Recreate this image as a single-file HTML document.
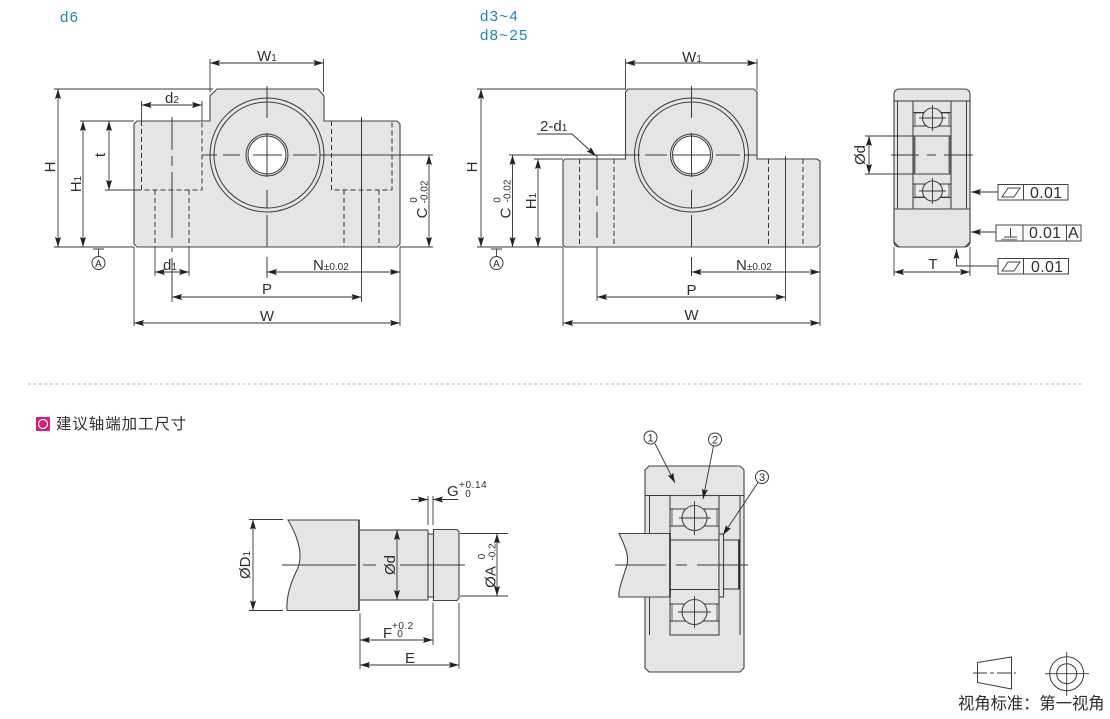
<!DOCTYPE html>
<html lang="zh"><head><meta charset="utf-8"><title>Diagram</title>
<style>
html,body{margin:0;padding:0;background:#fff;width:1110px;height:719px;overflow:hidden}
svg{display:block}
text{font-family:"Liberation Sans","Noto Sans CJK SC",sans-serif;fill:#2f2f2f;font-size:15px}
.s{font-size:10px}.m{text-anchor:middle}
.b{fill:#e5e5e7;stroke:#444;stroke-width:1.1}
.g{fill:#ececee;stroke:#555;stroke-width:.9}
.w{fill:#fff;stroke:#3a3a3a;stroke-width:1}
.n{fill:none;stroke:#3a3a3a;stroke-width:1}
.d{fill:none;stroke:#333;stroke-width:.9;marker-start:url(#a);marker-end:url(#a)}
.l{fill:none;stroke:#3a3a3a;stroke-width:.9}
.e{fill:none;stroke:#333;stroke-width:.9;marker-end:url(#a)}
.c{fill:none;stroke:#3a3a3a;stroke-width:1;stroke-dasharray:22 4 10 4}
.h{fill:none;stroke:#333;stroke-width:1;stroke-dasharray:5 3}
.blue{fill:#1b86bd;font-size:15px;letter-spacing:1.300px}
</style></head><body>
<svg width="1110" height="719" viewBox="0 0 1110 719" xmlns="http://www.w3.org/2000/svg">
<defs><marker id="a" markerUnits="userSpaceOnUse" markerWidth="10" markerHeight="6" refX="10" refY="3" orient="auto-start-reverse"><path d="M0 1L10 3L0 5L1.500 3Z" fill="#222" transform="matrix(1 0 0 1.500 0 -1.500)"/></marker></defs>

<text x="60" y="22" class="blue">d6</text>
<text x="480" y="21" class="blue">d3~4</text>
<text x="480" y="40" class="blue">d8~25</text>

<!-- Left block -->
<path class="b" d="M137 121H210V96L217 89H318L324 96V121H397L400 124V244L397 247H137L134 244V124Z"/>
<circle cx="267" cy="155" r="57" class="n"/><circle cx="267" cy="155" r="53" class="n"/>
<circle cx="267" cy="155" r="21" class="n"/><circle cx="267" cy="155" r="19" class="w"/>
<path class="l" d="M54 89H213M54 247H134M80 121H134M105 190H141M210 59V92M323.500 59V92M400 247H433M134 247V326M400 247V326"/>
<path class="l" d="M155 247V276M189 247V276M361.500 247V302M141.500 101V121M202 101V121"/>
<path class="d" d="M58 89V247"/><path class="d" d="M83 121V247"/><path class="d" d="M109 121V190"/>
<path class="d" d="M141.500 105H202"/><path class="d" d="M210 63H323.500"/><path class="d" d="M429 155V247"/>
<path class="e" d="M172 272H155"/><path class="e" d="M172 272H189"/><path class="d" d="M267 272H400"/><path class="d" d="M172 297H361.500"/><path class="d" d="M134 323H400"/>
<path class="h" d="M141.500 121V190H202V121M155 190V247M189 190V247M331.500 121V190H392V121M344 190V247M379 190V247"/>
<path class="n" d="M202 155H217M223 155H240M253 155H282M293 155H317M320 155H433"/>
<path class="n" d="M267 86V118M267 133V177M267 190V208M267 215V247M267 257V278"/>
<path class="n" d="M172 117V150M172 156V166M172 172V238M172 248V252M172 258V302M361.500 117V270"/>
<path class="l" d="M93 249H104M98.500 249V257"/><circle cx="98.500" cy="263" r="6.500" class="n"/><text x="98.500" y="267" class="m" style="font-size:10px">A</text>
<text x="267" y="61" class="m">W<tspan class="s">1</tspan></text>
<text x="172" y="103" class="m">d<tspan class="s">2</tspan></text>
<text x="170" y="270" class="m">d<tspan class="s">1</tspan></text>
<text x="313" y="270">N<tspan class="s">±0.02</tspan></text>
<text x="267" y="294" class="m">P</text><text x="267" y="321" class="m">W</text>
<text transform="translate(55,167) rotate(-90)" class="m">H</text>
<text transform="translate(81,184) rotate(-90)" class="m">H<tspan class="s">1</tspan></text>
<text transform="translate(105,155) rotate(-90)" class="m">t</text>
<text transform="translate(427,213) rotate(-90)" class="m">C</text>
<text transform="translate(417,200) rotate(-90)" class="s m">0</text>
<text transform="translate(427.500,192) rotate(-90)" class="s m">-0.02</text>

<!-- Middle block -->
<path class="b" d="M565 159H625.500V92L628 89H754L757 92V159H817L820 161V245L817 247H565L563 245V161Z"/>
<circle cx="691.500" cy="155" r="57" class="n"/><circle cx="691.500" cy="155" r="53" class="n"/>
<circle cx="691.500" cy="155" r="21" class="n"/><circle cx="691.500" cy="155" r="19" class="w"/>
<path class="l" d="M477 89H626M477 247H563M509 155H626M534 159H563M625.500 59V90M757 59V90M563 247V326M820 247V326"/>
<path class="l" d="M597 247V301M785.500 247V301"/>
<path class="d" d="M481 89V247"/><path class="d" d="M512.500 155V247"/><path class="d" d="M538 159V247"/>
<path class="d" d="M625.500 63H757"/><path class="d" d="M691.500 272H820"/><path class="d" d="M597 297H785.500"/><path class="d" d="M563 323H820"/>
<path class="e" d="M537 134H572L596 156"/>
<path class="h" d="M579.500 159V247M614 159V247M768.500 159V247M803 159V247"/>
<path class="n" d="M626 155H640M645 155H667M673 155H710M716 155H740M745 155H757"/>
<path class="n" d="M691.500 86V118M691.500 133V177M691.500 190V208M691.500 215V247M691.500 257V276"/>
<path class="n" d="M597 155V190M597 196V206M597 212V238M785.500 156V247"/>
<path class="l" d="M491 249H502M496.500 249V257"/><circle cx="496.500" cy="263" r="6.500" class="n"/><text x="496.500" y="267" class="m" style="font-size:10px">A</text>
<text x="692" y="62" class="m">W<tspan class="s">1</tspan></text>
<text x="540" y="131">2-d<tspan class="s">1</tspan></text>
<text x="736" y="270">N<tspan class="s">±0.02</tspan></text>
<text x="691.500" y="295" class="m">P</text><text x="691.500" y="320" class="m">W</text>
<text transform="translate(477,167) rotate(-90)" class="m">H</text>
<text transform="translate(536,201) rotate(-90)" class="m">H<tspan class="s">1</tspan></text>
<text transform="translate(510.500,213) rotate(-90)" class="m">C</text>
<text transform="translate(500.500,200) rotate(-90)" class="s m">0</text>
<text transform="translate(510.500,191) rotate(-90)" class="s m">-0.02</text>

<!-- Side view -->
<rect x="894" y="89" width="76" height="158" rx="5" class="b"/>
<path class="n" d="M894 101H970M897.500 101V209M966.500 101V209"/>
<rect x="913" y="101" width="38" height="108" class="b"/>
<rect x="915" y="113" width="34" height="13" class="g"/><rect x="915" y="184" width="34" height="13" class="g"/>
<path class="n" d="M913 126H951M913 136H951M913 174H951M913 184H951M913 112.500H951M913 197.500H951"/>
<path d="M914.500 136V174M949.500 136V174" stroke="#666" stroke-width="2" fill="none"/>
<circle cx="932.500" cy="118" r="10" class="b"/><circle cx="932.500" cy="191" r="10" class="b"/>
<path class="l" d="M919 118H946M932.500 105V131M919 191H946M932.500 178V204"/>
<path class="b" d="M894 209H970V242L965 247H899L894 242Z"/>
<path class="l" d="M865 136H913M865 174H913M894 247V276M970 247V276"/>
<path class="d" d="M869 136V174"/><path class="d" d="M894 272H970"/>
<path class="n" d="M891 155H919M927 155H936M944 155H973"/>
<path class="e" d="M998 192H971"/><path class="e" d="M996 232H971"/><path class="e" d="M998 266H956.500V249"/>
<g fill="none" stroke="#444" stroke-width="1">
<rect x="998" y="184.500" width="70" height="15.500" fill="#fff"/><path d="M1023.500 184.500V200M1002 197L1008 188H1020L1014 197Z"/>
<rect x="996" y="225" width="85" height="16" fill="#fff"/><path d="M1023 225V241M1066.500 225V241M1004 237H1017M1010.500 228V237"/><path d="M1001 239.500H1017" stroke="#999" stroke-width="1.500"/>
<rect x="998" y="258.500" width="70.500" height="15.500" fill="#fff"/><path d="M1023.500 258.500V274M1002 271L1008 262H1020L1014 271Z"/>
</g>
<g style="letter-spacing:.3px"><text x="1030" y="198" style="font-size:16px">0.01</text><text x="1029" y="238" style="font-size:16px">0.01</text><text x="1068" y="238" style="font-size:16px">A</text><text x="1031" y="272" style="font-size:16px">0.01</text></g>
<text x="933" y="269" class="m">T</text>
<text transform="translate(865,155) rotate(-90)" class="m">Ød</text>

<path d="M28 384H1082" fill="none" stroke="#b5b5b5" stroke-dasharray="3 2.500"/>

<rect x="36" y="417" width="14" height="14" fill="#dd1a78"/><circle cx="43" cy="424" r="4.500" fill="#dd1a78" stroke="#fff" stroke-width="1.300"/>
<text x="56" y="429" style="font-size:15.500px;letter-spacing:.9px">建议轴端加工尺寸</text>

<!-- Shaft -->
<path class="b" d="M288 520H359V610.500H287C286 595 292 580 297 570C303 558 300 540 288 520Z"/>
<rect x="359" y="530" width="69" height="70" class="b"/><rect x="428" y="534" width="5.500" height="63" class="b"/>
<path class="b" d="M433.500 529.500H457L459 532V598L457 600.500H433.500Z"/>
<path class="l" d="M359 520V610" style="stroke-width:1.600"/>
<path class="l" d="M249 519.500H283M249 610.500H283M428 496V525M433 496V525M460 533.500H508M460 596H508M360 613V669M433 603V645M459 603V669"/>
<path class="d" d="M253 519.500V610.500"/><path class="d" d="M397 530V600"/><path class="d" d="M497 533.500V596"/><path class="d" d="M360 640H433"/><path class="d" d="M360 665H459"/>
<path class="e" d="M411 499.500H428"/><path class="e" d="M458 499.500H433"/>
<path class="n" d="M282 565H356M363 565H376M400 565H465" />
<text transform="translate(250,565) rotate(-90)" class="m">ØD<tspan class="s">1</tspan></text>
<text transform="translate(395,565) rotate(-90)" class="m">Ød</text>
<text transform="translate(495.500,577) rotate(-90)" class="m">ØA</text>
<text transform="translate(485,556.500) rotate(-90)" class="s m">0</text>
<text transform="translate(495.500,552) rotate(-90)" class="s m">-0.2</text>
<text x="447" y="496">G</text><text x="459" y="488" class="s" style="letter-spacing:.6px">+0.14</text><text x="468" y="497" class="s m">0</text>
<text x="383" y="638">F</text><text x="392" y="629" class="s" style="letter-spacing:.5px">+0.2</text><text x="400" y="637" class="s m">0</text>
<text x="410" y="663" class="m">E</text>

<!-- Section -->
<path class="b" d="M649 466H740L744 470V668L740 672H649L645 668V470Z"/>
<path class="n" d="M645 495.500H744M649.500 495.500V635M740 495.500V635"/>
<rect x="670" y="495.500" width="49" height="139.500" class="b"/>
<rect x="672" y="509" width="45" height="17" class="g"/><rect x="672" y="604" width="45" height="17" class="g"/>
<path class="n" d="M670 526H719M670 540H719M670 589.500H719M670 604H719M670 509H719M670 621H719"/>
<circle cx="694.500" cy="518" r="12.500" class="b"/><circle cx="694.500" cy="612" r="12.500" class="b"/>
<path class="l" d="M679 518H711M694.500 501V535M678 612H711M694.500 596V628"/>
<rect x="723" y="540" width="16" height="49" fill="#e5e5e7" stroke="#3a3a3a"/><path d="M739 540V589" stroke="#222" stroke-width="1.600"/>
<rect x="719" y="534" width="4.500" height="63" class="b"/>
<path class="b" d="M619 533.500H670V597H619C618 590 623 578 626 568C630 558 626 548 619 533.500Z"/>
<path d="M670 533V597" stroke="#222" stroke-width="1.500"/>
<path class="n" d="M615 565H666M676 565H687M697 565H748"/>
<circle cx="650.500" cy="437.500" r="6.500" class="n"/><text x="650.500" y="441.500" class="m" style="font-size:11px">1</text>
<circle cx="715" cy="439.500" r="6.500" class="n"/><text x="715" y="443.500" class="m" style="font-size:11px">2</text>
<circle cx="762" cy="477" r="6.500" class="n"/><text x="762" y="481" class="m" style="font-size:11px">3</text>
<path class="e" d="M655 443.500L675 483"/><path class="e" d="M713.500 446L703 499"/><path class="e" d="M758 482.500L723 535"/>

<!-- View symbol -->
<path class="n" d="M977.500 662.500L1011.500 657V689L977.500 682.500Z"/>
<path class="l" d="M973 673H1016" style="stroke-dasharray:14 3 4 3"/>
<circle cx="1066.700" cy="673.700" r="17" class="n"/><circle cx="1066.700" cy="673.700" r="10" class="n"/>
<path class="l" d="M1045 673.700H1089M1066.700 652V696"/>
<text x="958" y="709" style="font-size:16.300px">视角标准：第一视角</text>
</svg>
</body></html>
